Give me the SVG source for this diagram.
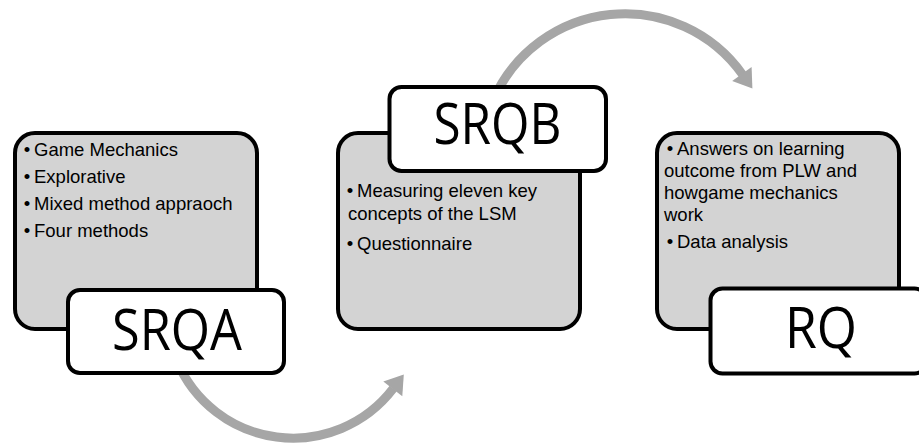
<svg xmlns="http://www.w3.org/2000/svg" width="919" height="443" viewBox="0 0 919 443">
  <style>
    .outer { fill: #d3d3d3; stroke: #000; stroke-width: 4; }
    .label { fill: #fff; stroke: #000; stroke-width: 4; }
    .big { font-family: "Open Sans", "Liberation Sans", sans-serif; font-size: 56px; fill: #000; text-anchor: middle; }
    .item { font-family: "Liberation Sans", Arial, sans-serif; font-size: 18.5px; fill: #000; }
    .dot { font-family: "Liberation Sans", Arial, sans-serif; font-size: 18.5px; fill: #000; text-anchor: middle; }
    .arc { fill: none; stroke: #a6a6a6; stroke-width: 9; }
    .head { fill: #a6a6a6; stroke: none; }
  </style>

  <g id="connectors">
    <path class="arc" d="M 176.5 360 A 126 126 0 0 0 393.2 388.6"/>
    <polygon class="head" points="403.8,374.6 402.3,396.2 383.3,381.6"/>
    <path class="arc" d="M 493.1 100.1 A 144 144 0 0 1 742.5 74.5"/>
    <polygon class="head" points="752.4,88.6 751.6,67.0 732.2,81.0"/>
  </g>

  <g id="node-srqa">
    <rect class="outer" x="15" y="133" width="242" height="196" rx="20" ry="20"/>
    <text class="dot" x="27" y="156">•</text><text class="item" x="34" y="156">Game Mechanics</text>
    <text class="dot" x="27" y="183">•</text><text class="item" x="34" y="183">Explorative</text>
    <text class="dot" x="27" y="210">•</text><text class="item" x="34" y="210">Mixed method appraoch</text>
    <text class="dot" x="27" y="237">•</text><text class="item" x="34" y="237">Four methods</text>
    <rect class="label" x="68" y="290" width="216" height="83" rx="12" ry="12"/>
    <text class="big" x="177" y="350" textLength="130" lengthAdjust="spacingAndGlyphs">SRQA</text>
  </g>

  <g id="node-srqb">
    <rect class="outer" x="338" y="133" width="242" height="196" rx="20" ry="20"/>
    <rect class="label" x="389.5" y="87" width="216.5" height="84" rx="12" ry="12"/>
    <text class="big" x="497.5" y="144" textLength="128" lengthAdjust="spacingAndGlyphs">SRQB</text>
    <text class="dot" x="350" y="197">•</text><text class="item" x="357" y="197">Measuring eleven key</text>
    <text class="item" x="348" y="220">concepts of the LSM</text>
    <text class="dot" x="350" y="250">•</text><text class="item" x="357" y="250">Questionnaire</text>
  </g>

  <g id="node-rq">
    <rect class="outer" x="657" y="133" width="242" height="196" rx="20" ry="20"/>
    <text class="dot" x="670" y="155">•</text><text class="item" x="677" y="155">Answers on learning</text>
    <text class="item" x="664" y="177">outcome from PLW and</text>
    <text class="item" x="664" y="199">howgame mechanics</text>
    <text class="item" x="664" y="221">work</text>
    <text class="dot" x="670" y="248">•</text><text class="item" x="677" y="248">Data analysis</text>
    <rect class="label" x="710.5" y="288.5" width="216" height="85" rx="12" ry="12"/>
    <text class="big" x="821" y="348" textLength="72" lengthAdjust="spacingAndGlyphs">RQ</text>
  </g>
</svg>
